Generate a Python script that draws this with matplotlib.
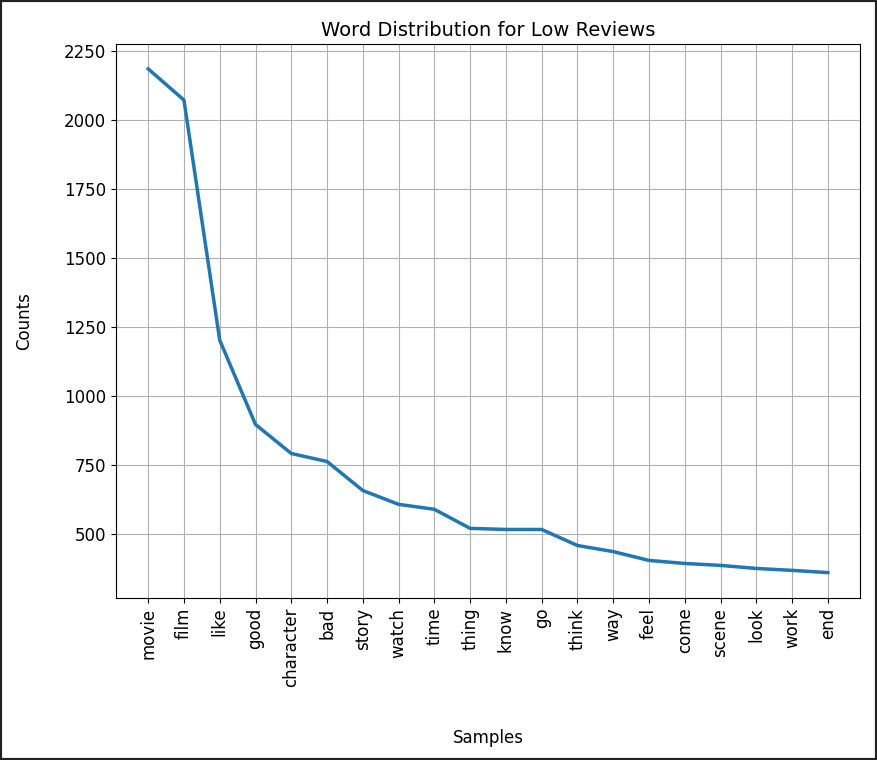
import matplotlib
matplotlib.use("Agg")
import matplotlib.pyplot as plt

words = ["movie","film","like","good","character","bad","story","watch","time","thing",
         "know","go","think","way","feel","come","scene","look","work","end"]
counts = [2185,2072,1203,898,793,764,659,609,591,522,518,518,460,438,406,395,388,377,370,362]

fig = plt.figure(figsize=(8.77,7.6), dpi=100)
ax = fig.add_axes([116/877, 1-598/760, (860-116)/877, (598-44)/760])
ax.plot(range(len(words)), counts, linewidth=2.5, color="#1f77b4")
ax.set_xticks(range(len(words)))
ax.set_xticklabels(words, rotation=90, fontsize=12)
ax.tick_params(axis='y', labelsize=12)
ax.set_yticks([500,750,1000,1250,1500,1750,2000,2250])
ax.set_ylim(270, 2275)
ax.set_xlim(-0.9, 19.9)
ax.grid(True, color="#b0b0b0", linewidth=0.8)
ax.set_title("Word Distribution for Low Reviews", fontsize=14)
ax.set_xlabel("Samples", fontsize=12, labelpad=30)
ax.set_ylabel("Counts", fontsize=12, labelpad=22)
fig.patches.append(matplotlib.patches.Rectangle((0,0),1,1,transform=fig.transFigure,
                   fill=False, edgecolor="#222222", linewidth=3))
fig.savefig("out.png", dpi=100)
